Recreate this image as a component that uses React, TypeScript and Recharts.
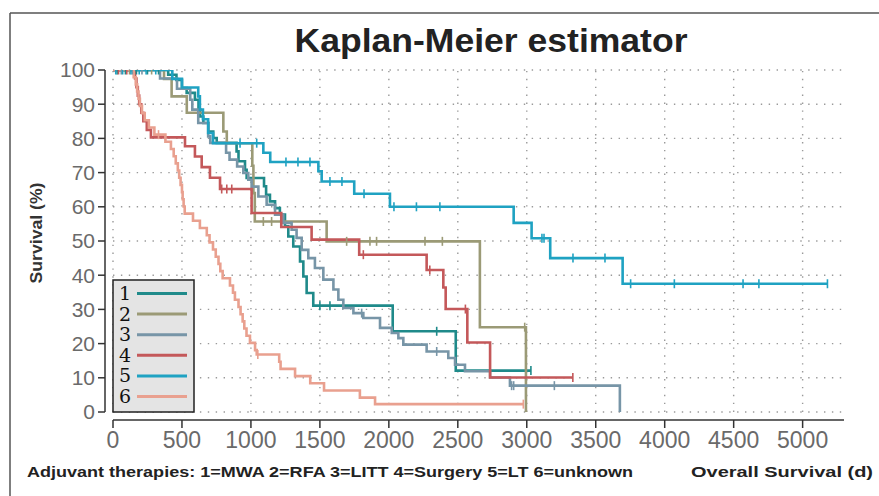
import React from 'react';
import { LineChart, Line, XAxis, YAxis, ReferenceLine } from 'recharts';

// ---- Data ----
const groupNames = ['1', '2', '3', '4', '5', '6'];
const therapyLabels = ['MWA', 'RFA', 'LITT', 'Surgery', 'LT', 'unknown'];
const groupColors = ['#1f8a8a', '#9b9a76', '#7795a7', '#c4585a', '#1fa2c2', '#e9a08f'];

const xTicks = [0, 500, 1000, 1500, 2000, 2500, 3000, 3500, 4000, 4500, 5000];
const yTicks = [0, 10, 20, 30, 40, 50, 60, 70, 80, 90, 100];
const X_MAX = 5300;

// [time (days), survival (%) after the event]
const g1Steps = [[0, 100], [400, 98.6], [460, 97.1], [500, 94.7], [534, 93.3], [594, 91.3], [620, 88.5], [631, 86.4], [655, 84.5], [691, 82.0], [727, 80.1], [752, 78.7], [896, 76.2], [910, 73.3], [957, 70.8], [969, 68.4], [1095, 66.0], [1110, 63.5], [1138, 61.6], [1175, 59.6], [1210, 57.7], [1247, 54.3], [1271, 51.3], [1307, 48.4], [1356, 44.0], [1380, 39.6], [1404, 34.8], [1452, 31.1], [2028, 23.6], [2485, 12.1]];
const g1Censor = [30, 90, 170, 250, 330, 1500, 1573, 2347, 3030];

const g2Steps = [[0, 100], [370, 97.4], [425, 92.3], [535, 87.5], [800, 82.0], [825, 78.6], [1010, 72.0], [1018, 64.0], [1028, 55.7], [1549, 49.9], [2660, 24.8], [2994, 0]];
const g2Censor = [120, 280, 1090, 1150, 1694, 1863, 1911, 2262, 2388, 2985];

const g3Steps = [[0, 100], [341, 97.5], [464, 94.5], [560, 91.3], [575, 88.4], [618, 84.5], [690, 80.6], [705, 78.7], [820, 75.8], [845, 73.8], [900, 71.8], [945, 69.9], [981, 67.9], [1005, 65.9], [1054, 63.0], [1114, 60.6], [1175, 57.7], [1235, 55.3], [1295, 53.3], [1331, 50.9], [1368, 47.4], [1416, 45.0], [1464, 42.1], [1525, 38.7], [1598, 35.8], [1634, 32.8], [1670, 30.4], [1743, 28.9], [1815, 27.5], [1936, 24.6], [2021, 23.1], [2069, 21.6], [2105, 19.7], [2274, 17.7], [2431, 15.8], [2480, 13.8], [2552, 11.9], [2734, 10.1], [2878, 7.7], [3675, 0]];
const g3Censor = [60, 140, 210, 1803, 2347, 2890, 2905, 3200];

const g4Steps = [[0, 100], [160, 97.5], [170, 95.0], [180, 92.5], [190, 90.0], [205, 87.5], [220, 85.0], [245, 82.5], [275, 80.3], [522, 77.7], [594, 74.7], [643, 71.6], [703, 68.5], [776, 65.2], [1005, 58.2], [1220, 54.1], [1440, 50.4], [1785, 46.0], [2274, 41.5], [2395, 36.4], [2412, 30.1], [2569, 20.3], [2734, 10.1]];
const g4Censor = [40, 100, 788, 825, 861, 1815, 2297, 2555, 3334];

const g5Steps = [[0, 100], [430, 97.4], [500, 94.9], [618, 92.3], [630, 88.4], [652, 85.6], [690, 81.6], [725, 78.6], [1090, 75.8], [1140, 73.1], [1489, 70.4], [1513, 67.4], [1749, 63.8], [2008, 60.0], [2905, 55.3], [3035, 50.8], [3170, 45.0], [3695, 37.5]];
const g5Censor = [20, 70, 130, 190, 240, 310, 921, 1042, 1254, 1341, 1428, 1573, 1660, 1820, 2037, 2200, 2370, 3110, 3125, 3335, 3567, 3753, 4070, 4568, 4683, 5180];

const g6Steps = [[0, 100], [150, 97.9], [165, 95.8], [175, 93.7], [185, 91.6], [195, 89.5], [210, 87.4], [230, 85.3], [260, 83.2], [300, 81.1], [380, 79.0], [420, 76.9], [440, 74.8], [455, 72.7], [470, 70.6], [480, 68.5], [490, 66.4], [500, 64.3], [505, 62.2], [512, 60.1], [520, 58.0], [580, 55.9], [630, 53.8], [680, 51.7], [700, 49.6], [725, 47.5], [745, 45.4], [765, 43.3], [778, 41.2], [795, 39.1], [848, 37.0], [870, 34.9], [884, 32.8], [910, 30.7], [925, 28.6], [940, 26.5], [952, 24.4], [968, 22.3], [993, 20.2], [1030, 18.1], [1042, 16.8], [1205, 14.7], [1215, 12.6], [1320, 10.5], [1430, 8.4], [1530, 6.3], [1790, 4.2], [1900, 2.3]];
const g6Censor = [330, 1050, 2975];

const allSteps = [g1Steps, g2Steps, g3Steps, g4Steps, g5Steps, g6Steps];
const allCensor = [g1Censor, g2Censor, g3Censor, g4Censor, g5Censor, g6Censor];

type Pt = { t: number; s: number; c?: boolean };

function survivalAt(steps: number[][], t: number): number {
  let s = steps[0][1];
  for (const [tt, ss] of steps) {
    if (tt <= t) s = ss;
    else break;
  }
  return s;
}

function buildSeries(steps: number[][], censors: number[]): Pt[] {
  const pts: Pt[] = steps.map(([t, s]) => ({ t, s }));
  censors.forEach((c) => pts.push({ t: c, s: survivalAt(steps, c), c: true }));
  pts.sort((a, b) => (a.t - b.t) || ((a.c ? 1 : 0) - (b.c ? 1 : 0)));
  return pts;
}

const seriesData = allSteps.map((st, i) => buildSeries(st, allCensor[i]));

// ---- Layout ----
const W = 879;
const H = 496;
const PLOT_TOP = 70;
const PLOT_LEFT = 105; // y-axis line
const PLOT_RIGHT = 844;
const PLOT_BOTTOM = 420; // x-axis line
const AXIS_GAP = 8;
const FONT = '"Liberation Sans", Arial, sans-serif';

const makeCensorDot = (color: string) => (props: any) => {
  const { cx, cy, payload, index } = props;
  if (!payload || !payload.c || cx == null || cy == null) return <g key={`e${index}`} />;
  return <line key={`c${index}`} x1={cx} x2={cx} y1={cy - 4.5} y2={cy + 4.5} stroke={color} strokeWidth={1.6} />;
};

const gridStyle = { stroke: '#9a9a9a', strokeWidth: 1.4, strokeDasharray: '1.4 6.5' };

export default function App() {
  return (
    <div style={{ position: 'absolute', left: 0, top: 0, width: W, height: H, background: '#fff', overflow: 'hidden' }}>
      <LineChart
        width={W}
        height={H}
        margin={{ top: PLOT_TOP, right: W - PLOT_RIGHT, bottom: 36, left: 45 }}
      >
        <XAxis
          type="number"
          dataKey="t"
          domain={[0, X_MAX]}
          ticks={xTicks}
          allowDataOverflow
          padding={{ left: AXIS_GAP, right: 0 }}
          height={H - PLOT_BOTTOM - 36}
          axisLine={false}
          tickLine={{ stroke: '#333', strokeWidth: 1.5 }}
          tickSize={8}
          tickMargin={4}
          tick={{ fontSize: 23, fill: '#6a6a6a', fontFamily: FONT }}
        />
        <YAxis
          type="number"
          domain={[0, 100]}
          ticks={yTicks}
          allowDataOverflow
          padding={{ top: 0, bottom: AXIS_GAP }}
          width={60}
          axisLine={false}
          tickLine={{ stroke: '#333', strokeWidth: 1.5 }}
          tickSize={7}
          tickMargin={3}
          tick={{ fontSize: 21, fill: '#6a6a6a', fontFamily: FONT }}
        />
        {xTicks.map((t) => (
          <ReferenceLine key={`vx${t}`} segment={[{ x: t, y: 0 }, { x: t, y: 100 }]} {...gridStyle} />
        ))}
        {yTicks.map((v) => (
          <ReferenceLine key={`hy${v}`} segment={[{ x: 0, y: v }, { x: X_MAX, y: v }]} {...gridStyle} />
        ))}
        {seriesData.map((d, i) => (
          <Line
            key={groupNames[i]}
            data={d}
            dataKey="s"
            name={`${groupNames[i]}=${therapyLabels[i]}`}
            type="stepAfter"
            stroke={groupColors[i]}
            strokeWidth={2.6}
            dot={makeCensorDot(groupColors[i])}
            activeDot={false}
            isAnimationActive={false}
          />
        ))}
      </LineChart>
      <svg
        width={W}
        height={H}
        style={{ position: 'absolute', left: 0, top: 0, pointerEvents: 'none' }}
        fontFamily={FONT}
      >
        {/* frame */}
        <line x1={10} y1={13} x2={W} y2={13} stroke="#555" strokeWidth={1.5} />
        <line x1={10} y1={13} x2={10} y2={H} stroke="#555" strokeWidth={1.5} />
        {/* title */}
        <text x={491} y={52} textAnchor="middle" fontSize={34} fontWeight="bold" fill="#222" textLength={393} lengthAdjust="spacingAndGlyphs">
          Kaplan-Meier estimator
        </text>
        {/* axis lines (offset from plot region) */}
        <line x1={PLOT_LEFT + AXIS_GAP} y1={PLOT_BOTTOM} x2={PLOT_RIGHT} y2={PLOT_BOTTOM} stroke="#333" strokeWidth={1.5} />
        <line x1={PLOT_LEFT} y1={PLOT_TOP} x2={PLOT_LEFT} y2={PLOT_BOTTOM - AXIS_GAP} stroke="#333" strokeWidth={1.5} />
        {/* y label */}
        <text transform="translate(42,233) rotate(-90)" textAnchor="middle" fontSize={16} fontWeight="bold" fill="#333" textLength={101} lengthAdjust="spacingAndGlyphs">
          Survival (%)
        </text>
        {/* footer */}
        <text x={27} y={477} fontSize={15} fontWeight="bold" fill="#222" textLength={606} lengthAdjust="spacingAndGlyphs">
          {'Adjuvant therapies: ' + groupNames.map((n, i) => `${n}=${therapyLabels[i]}`).join(' ')}
        </text>
        <text x={691} y={477} fontSize={15} fontWeight="bold" fill="#222" textLength={182} lengthAdjust="spacingAndGlyphs">
          Overall Survival (d)
        </text>
        {/* legend */}
        <rect x={113} y={280} width={81} height={132} fill="#e4e4e4" stroke="#222" strokeWidth={1.5} />
        {groupNames.map((n, i) => {
          const cy = 293.5 + i * 20.6;
          return (
            <g key={`lg${n}`}>
              <text x={119} y={cy + 6.5} fontSize={19} fontFamily='"DejaVu Serif", "Liberation Serif", serif' fill="#111">
                {n}
              </text>
              <line x1={137} x2={187} y1={cy} y2={cy} stroke={groupColors[i]} strokeWidth={3} />
            </g>
          );
        })}
      </svg>
    </div>
  );
}
